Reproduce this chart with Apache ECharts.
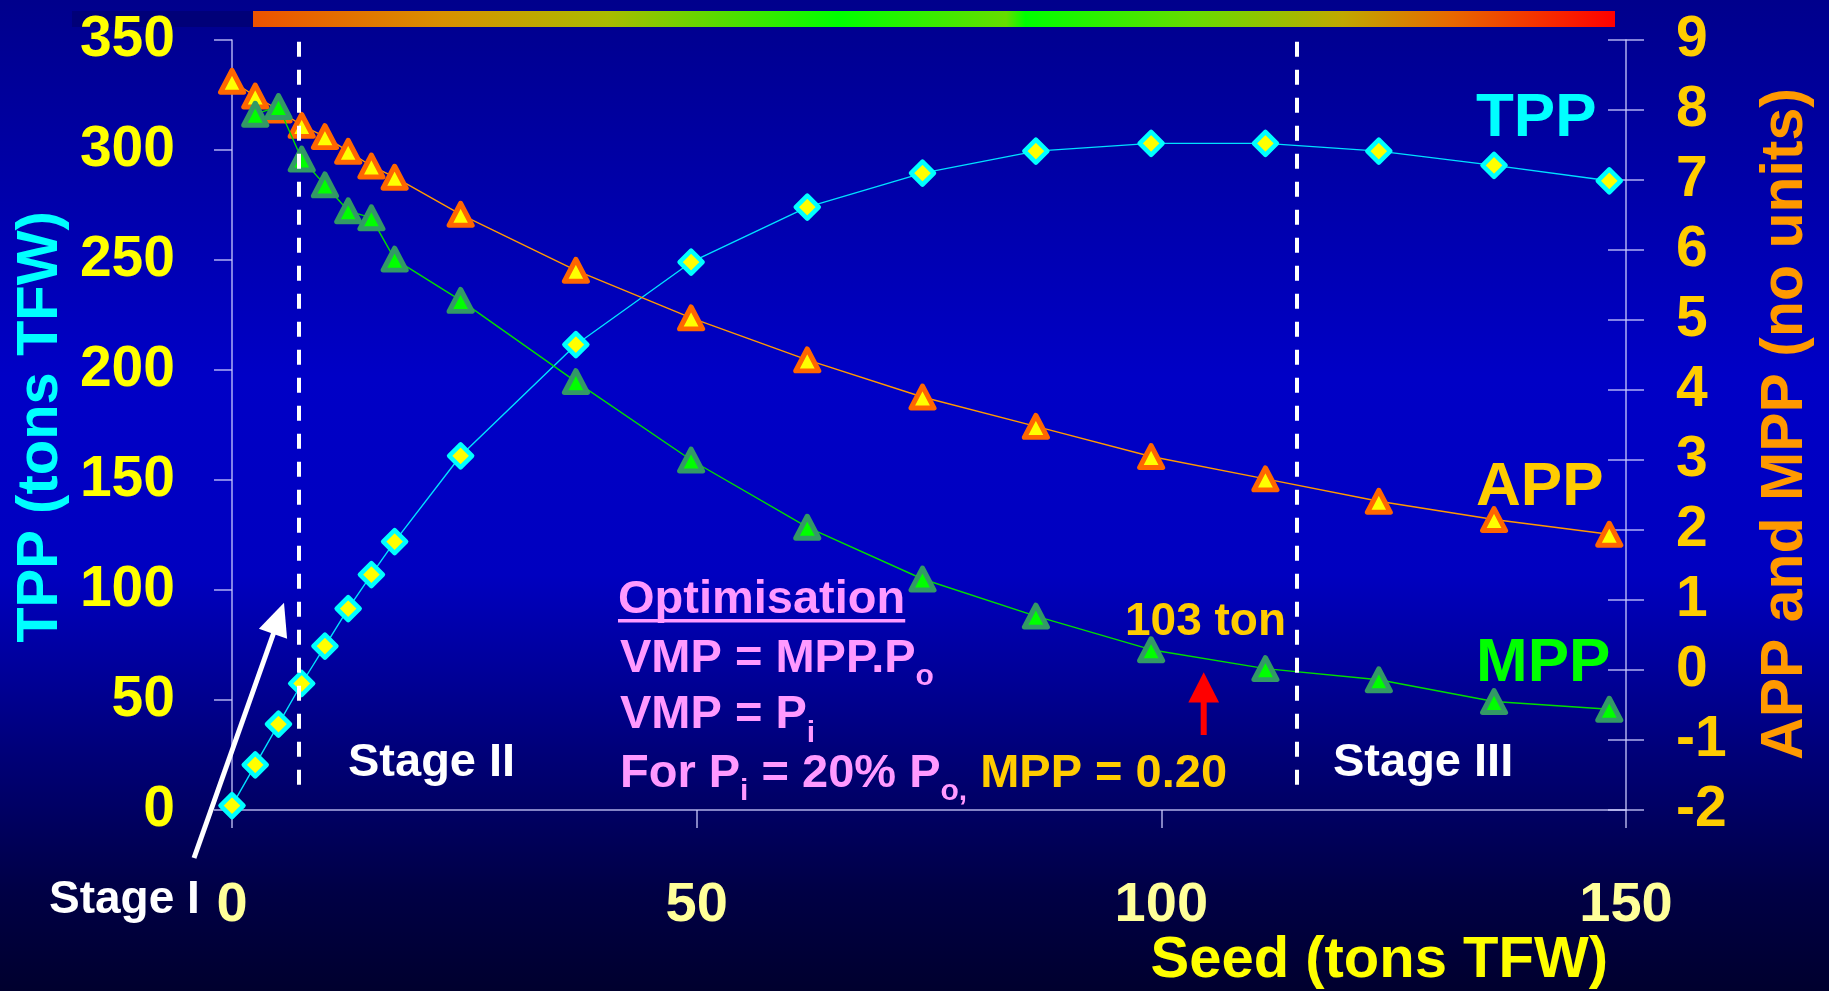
<!DOCTYPE html>
<html>
<head>
<meta charset="utf-8">
<script src="https://cdn.jsdelivr.net/npm/echarts@6/dist/echarts.min.js"></script>
<style>
html,body{margin:0;padding:0;background:#000060;}
#chart{width:1829px;height:991px;}
</style>
</head>
<body>
<div id="chart"></div>
<script>
// ---- data ----
const seed = [0, 2.5, 5, 7.5, 10, 12.5, 15, 17.5, 24.6, 37, 49.4, 61.9, 74.3, 86.5, 98.9, 111.2, 123.4, 135.8, 148.2];
const tpp  = [2, 20.5, 39, 57.5, 74.5, 91.5, 107, 122, 161, 211.5, 249, 274, 289.5, 299.5, 303, 303, 299.5, 293, 286];
const app  = [8.41, 8.2, 8.0, 7.78, 7.62, 7.41, 7.2, 7.04, 6.51, 5.71, 5.03, 4.43, 3.9, 3.48, 3.05, 2.73, 2.41, 2.15, 1.94];
const mpp  = [null, 7.94, 8.05, 7.3, 6.93, 6.56, 6.46, 5.87, 5.28, 4.12, 3.0, 2.04, 1.3, 0.77, 0.29, 0.02, -0.14, -0.45, -0.56];
const stageBounds = [7.2, 114.6];
const xTicks = [0, 50, 100, 150];
const leftTicks = [0, 50, 100, 150, 200, 250, 300, 350];
const rightTicks = [-2, -1, 0, 1, 2, 3, 4, 5, 6, 7, 8, 9];

const FONT = '"Liberation Sans", Arial, Helvetica, sans-serif';
const chart = echarts.init(document.getElementById('chart'), null, {renderer: 'canvas'});

function pairs(ys) {
  const out = [];
  seed.forEach((x, i) => { if (ys[i] !== null) out.push([x, ys[i]]); });
  return out;
}

const axisLineColor = 'rgba(205,205,255,0.85)';
const DY = 4; // text centre offset

// measure text for sub-scripted runs
const mctx = document.createElement('canvas').getContext('2d');
function textW(t, size) {
  mctx.font = 'bold ' + size + 'px ' + FONT;
  return mctx.measureText(t).width;
}
function run(x, y, parts) {
  const els = [];
  let cx = x;
  parts.forEach(p => {
    els.push({
      type: 'text', x: cx, y: y + DY + (p.dy || 0), z: 50,
      style: {text: p.t, fill: p.c, font: 'bold ' + p.s + 'px ' + FONT, align: 'left', verticalAlign: 'middle'}
    });
    cx += textW(p.t, p.s);
  });
  return els;
}
function txt(t, x, y, size, color, align, rot) {
  return {
    type: 'text', x: x, y: rot ? y : y + DY, z: 50, rotation: rot || 0,
    style: {text: t, fill: color, font: 'bold ' + size + 'px ' + FONT, align: align || 'left', verticalAlign: 'middle'}
  };
}

const PINK = '#FF99FF', GOLD = '#FFCC00', WHITE = '#FFFFFF';
const subS = 30, mainS = 47, subDy = 18;

let graphics = [
  // background
  {type: 'rect', z: -100, shape: {x: 0, y: 0, width: 1829, height: 991},
   style: {fill: new echarts.graphic.LinearGradient(0, 0, 0, 1, [
     {offset: 0, color: '#00008C'},
     {offset: 0.38, color: '#0000C6'},
     {offset: 0.58, color: '#0000C0'},
     {offset: 0.76, color: '#000078'},
     {offset: 0.9, color: '#000045'},
     {offset: 1, color: '#00002E'}
   ])}},
  // colour bar at top
  {type: 'rect', z: -50, shape: {x: 72, y: 11, width: 181, height: 16}, style: {fill: '#000078'}},
  {type: 'rect', z: -50, shape: {x: 253, y: 11, width: 1362, height: 16},
   style: {fill: new echarts.graphic.LinearGradient(0, 0, 1, 0, [
     {offset: 0, color: '#EE5200'},
     {offset: 0.14, color: '#D89000'},
     {offset: 0.26, color: '#AABB00'},
     {offset: 0.43, color: '#00FF00'},
     {offset: 0.553, color: '#66DD00'},
     {offset: 0.567, color: '#00FF00'},
     {offset: 0.69, color: '#66DD00'},
     {offset: 0.80, color: '#C0A800'},
     {offset: 0.88, color: '#E86800'},
     {offset: 1, color: '#FF0000'}
   ])}},
  // axis titles
  txt('TPP (tons TFW)', 41, 427, 58, '#00FFFF', 'center', Math.PI / 2),
  txt('APP and MPP (no units)', 1786, 424, 59, '#FF9900', 'center', Math.PI / 2),
  txt('Seed (tons TFW)', 1608, 957, 58, '#FFFF00', 'right'),
  // series labels
  txt('TPP', 1476, 115.4, 62, '#00FFFF'),
  txt('APP', 1476, 484.2, 62, GOLD),
  txt('MPP', 1476, 659.9, 62, '#00FF00'),
  // stage labels
  txt('Stage I', 49, 896.7, 46, WHITE),
  txt('Stage II', 348, 758.9, 47, WHITE),
  txt('Stage III', 1333, 758.9, 47, WHITE),
  // 103 ton
  txt('103 ton', 1125, 618.4, 46, GOLD),
  // optimisation block
  txt('Optimisation', 618, 596.5, mainS, PINK),
  {type: 'rect', z: 50, shape: {x: 618, y: 619, width: textW('Optimisation', mainS), height: 3.5}, style: {fill: PINK}},
  // red arrow
  {type: 'rect', z: 50, shape: {x: 1200.7, y: 700, width: 6, height: 35}, style: {fill: '#FF0000'}},
  {type: 'polygon', z: 50, shape: {points: [[1203.7, 672.3], [1188.3, 702.5], [1219.1, 702.5]]}, style: {fill: '#FF0000'}},
  // white arrow (Stage I)
  {type: 'line', z: 50, shape: {x1: 194, y1: 858, x2: 274, y2: 632}, style: {stroke: WHITE, lineWidth: 5}},
  {type: 'polygon', z: 50, shape: {points: [[284, 602.7], [258.9, 628.8], [287.1, 638.8]]}, style: {fill: WHITE}}
];
graphics = graphics.concat(
  run(620, 654.9, [{t: 'VMP = MPP.P', s: mainS, c: PINK}, {t: 'o', s: subS, c: PINK, dy: subDy}]),
  run(620, 711.5, [{t: 'VMP = P', s: mainS, c: PINK}, {t: 'i', s: subS, c: PINK, dy: subDy}]),
  run(620, 769.9, [
    {t: 'For P', s: mainS, c: PINK}, {t: 'i', s: subS, c: PINK, dy: subDy},
    {t: ' = 20% P', s: mainS, c: PINK}, {t: 'o,', s: subS, c: PINK, dy: subDy},
    {t: ' MPP = 0.20', s: mainS, c: GOLD}
  ])
);

const option = {
  animation: false,
  backgroundColor: 'transparent',
  grid: {left: 232, right: 203, top: 40, bottom: 181, containLabel: false},
  xAxis: {
    type: 'value', min: xTicks[0], max: xTicks[xTicks.length - 1], interval: 50,
    axisLine: {show: true, onZero: false, lineStyle: {color: axisLineColor, width: 1.5}},
    axisTick: {show: true, length: 18, lineStyle: {color: axisLineColor, width: 1.5}},
    axisLabel: {color: '#FFFF99', fontSize: 56, fontWeight: 'bold', fontFamily: FONT, margin: 68},
    splitLine: {show: false}
  },
  yAxis: [
    {
      type: 'value', position: 'left', min: leftTicks[0], max: leftTicks[leftTicks.length - 1], interval: 50,
      axisLine: {show: true, lineStyle: {color: axisLineColor, width: 1.5}},
      axisTick: {show: true, length: 18, lineStyle: {color: axisLineColor, width: 1.5}},
      axisLabel: {color: '#FFFF00', fontSize: 57, fontWeight: 'bold', fontFamily: FONT, margin: 57, padding: [8, 0, 0, 0]},
      splitLine: {show: false}
    },
    {
      type: 'value', position: 'right', min: rightTicks[0], max: rightTicks[rightTicks.length - 1], interval: 1,
      axisLine: {show: true, lineStyle: {color: axisLineColor, width: 1.5}},
      axisTick: {show: true, length: 18, lineStyle: {color: axisLineColor, width: 1.5}},
      axisLabel: {color: GOLD, fontSize: 57, fontWeight: 'bold', fontFamily: FONT, margin: 50, padding: [8, 0, 0, 0]},
      splitLine: {show: false}
    },
    {
      // inner half of the crossing ticks on the right axis
      type: 'value', position: 'right', min: rightTicks[0], max: rightTicks[rightTicks.length - 1], interval: 1,
      axisLine: {show: false},
      axisTick: {show: true, inside: true, length: 18, lineStyle: {color: axisLineColor, width: 1.5}},
      axisLabel: {show: false},
      splitLine: {show: false}
    }
  ],
  series: [
    {
      name: 'TPP', type: 'line', yAxisIndex: 0, data: pairs(tpp), z: 3,
      symbol: 'diamond', symbolSize: [23, 23],
      lineStyle: {color: '#00E0FF', width: 1.4},
      itemStyle: {color: '#FFFF00', borderColor: '#00FFFF', borderWidth: 4.5, borderJoin: 'round'}
    },
    {
      name: 'APP', type: 'line', yAxisIndex: 1, data: pairs(app), z: 4,
      symbol: 'triangle', symbolSize: [23, 22],
      lineStyle: {color: '#FF9900', width: 1.4},
      itemStyle: {color: '#FFFF00', borderColor: '#FF6600', borderWidth: 5, borderJoin: 'round'}
    },
    {
      name: 'MPP', type: 'line', yAxisIndex: 1, data: pairs(mpp), z: 5,
      symbol: 'triangle', symbolSize: [23, 22],
      lineStyle: {color: '#00DD00', width: 1.4},
      itemStyle: {color: '#00FF00', borderColor: '#339966', borderWidth: 5, borderJoin: 'round'}
    },
    {
      name: 'stages', type: 'line', yAxisIndex: 0, data: [], z: 10,
      markLine: {
        silent: true, symbol: 'none', label: {show: false}, z: 10,
        lineStyle: {color: '#FFFFFF', type: [15, 13], width: 4},
        data: stageBounds.map(x => [{coord: [x, 349.2]}, {coord: [x, 11.4]}])
      }
    }
  ],
  graphic: graphics
};
chart.setOption(option);
</script>
</body>
</html>
